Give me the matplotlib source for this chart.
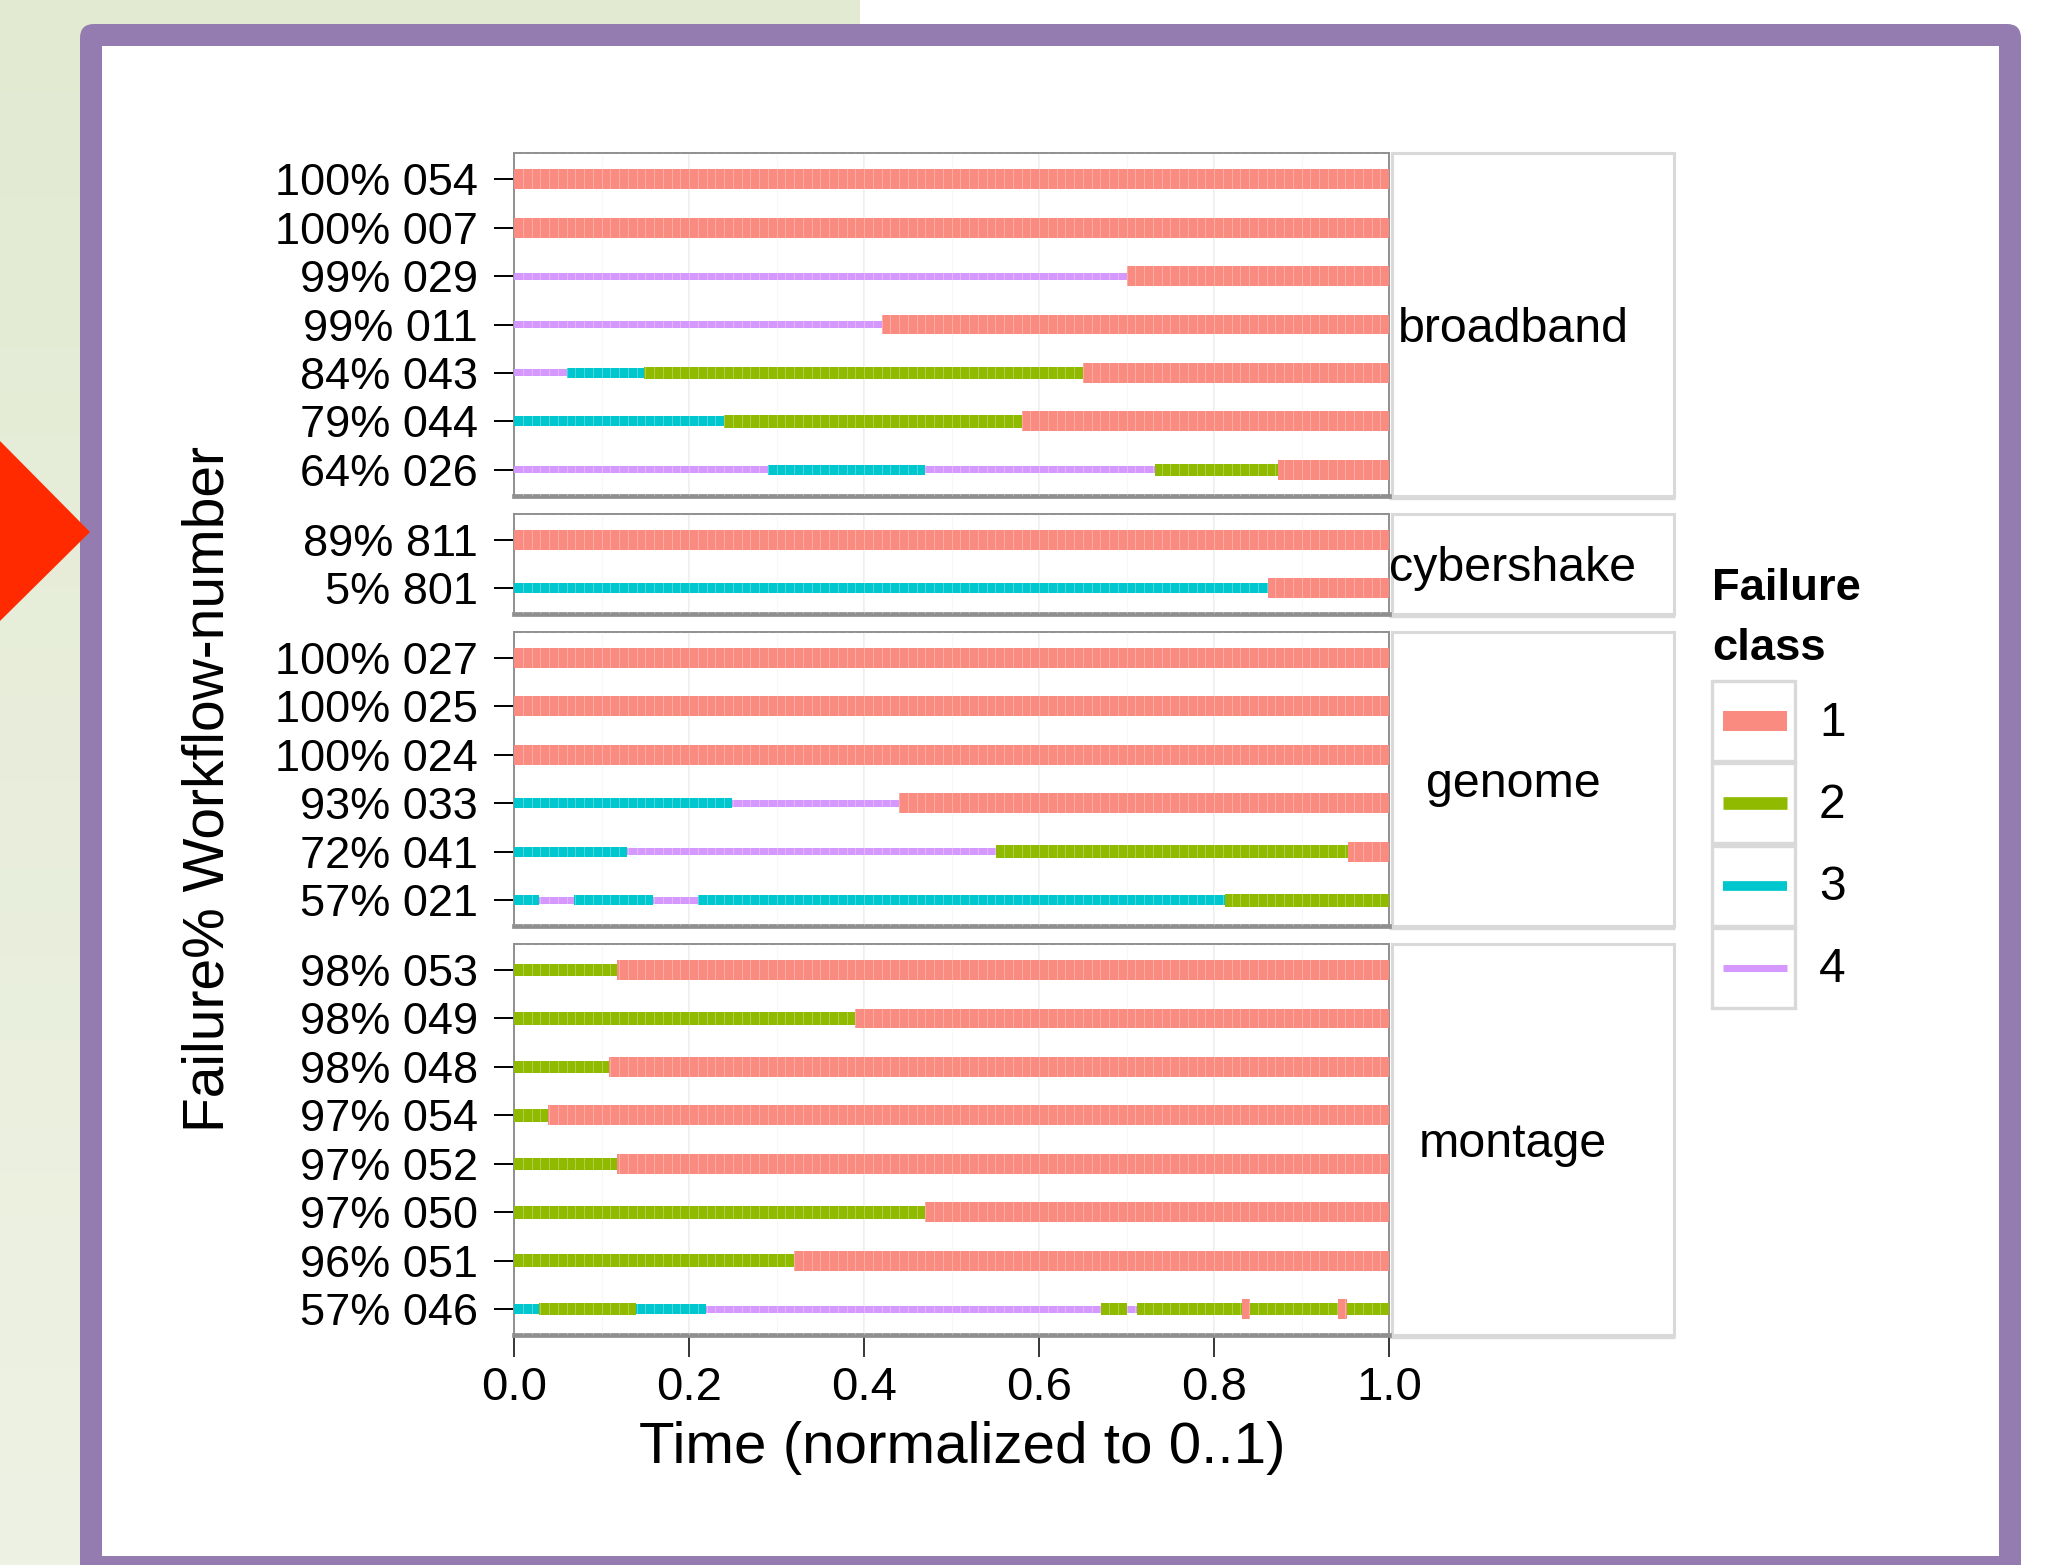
import numpy as np
import matplotlib
matplotlib.use("Agg")
import matplotlib.pyplot as plt
import matplotlib.colors as mcolors
from matplotlib.patches import Rectangle, FancyBboxPatch, Polygon

plt.rcParams['font.family'] = ['Liberation Sans', 'DejaVu Sans']

W, H = 2065, 1565

# ---------------- data ----------------
groups = ["broadband", "cybershake", "genome", "montage"]

broadband_labels = ["100% 054", "100% 007", "99% 029", "99% 011", "84% 043", "79% 044", "64% 026"]
broadband_breaks = [
    [0, 1],
    [0, 1],
    [0, 0.70, 1],
    [0, 0.42, 1],
    [0, 0.06, 0.149, 0.65, 1],
    [0, 0.24, 0.581, 1],
    [0, 0.29, 0.47, 0.732, 0.873, 1],
]
broadband_classes = [[1], [1], [4, 1], [4, 1], [4, 3, 2, 1], [3, 2, 1], [4, 3, 4, 2, 1]]

cybershake_labels = ["89% 811", "5% 801"]
cybershake_breaks = [[0, 1], [0, 0.862, 1]]
cybershake_classes = [[1], [3, 1]]

genome_labels = ["100% 027", "100% 025", "100% 024", "93% 033", "72% 041", "57% 021"]
genome_breaks = [
    [0, 1],
    [0, 1],
    [0, 1],
    [0, 0.249, 0.44, 1],
    [0, 0.129, 0.551, 0.953, 1],
    [0, 0.028, 0.069, 0.159, 0.21, 0.812, 1],
]
genome_classes = [[1], [1], [1], [3, 4, 1], [3, 4, 2, 1], [3, 4, 3, 4, 3, 2]]

montage_labels = ["98% 053", "98% 049", "98% 048", "97% 054", "97% 052", "97% 050", "96% 051", "57% 046"]
montage_breaks = [
    [0, 0.118, 1],
    [0, 0.39, 1],
    [0, 0.108, 1],
    [0, 0.039, 1],
    [0, 0.118, 1],
    [0, 0.47, 1],
    [0, 0.32, 1],
    [0, 0.028, 0.139, 0.219, 0.671, 0.701, 0.7115, 0.832, 0.841, 0.942, 0.952, 1],
]
montage_classes = [[2, 1], [2, 1], [2, 1], [2, 1], [2, 1], [2, 1], [2, 1],
                   [3, 2, 3, 4, 2, 4, 2, 1, 2, 1, 2]]

failure_classes = [1, 2, 3, 4]
x_ticks = [0.0, 0.2, 0.4, 0.6, 0.8, 1.0]
x_minor = [0.1, 0.3, 0.5, 0.7, 0.9]

# ---------------- style ----------------
class_colors = {1: "#FA8B80", 2: "#8FBA00", 3: "#00C6CD", 4: "#D598FF"}
class_height = {1: 0.41, 2: 0.26, 3: 0.205, 4: 0.145}      # in row units
legend_lw = {1: 14.4, 2: 9.1, 3: 7.0, 4: 5.0}              # points

fig = plt.figure(figsize=(W / 100, H / 100), dpi=100)
fig.patch.set_facecolor("white")

# background / slide decoration
bg = fig.add_axes([0, 0, 1, 1], zorder=0)
grad = np.linspace(0, 1, 256)[:, None, None]
c0 = np.array(mcolors.to_rgb("#E2EAD2"))
c1 = np.array(mcolors.to_rgb("#EEF2E4"))
img = c0 + (c1 - c0) * grad
bg.imshow(img, extent=(0, 860, H, 0), aspect='auto', zorder=0)
bg.add_patch(FancyBboxPatch((80, 24), 1941, 1580, boxstyle="round,pad=0,rounding_size=14",
                            fc="#957CB0", ec="none", zorder=1))
bg.add_patch(Rectangle((102, 46), 1999 - 102, 1556 - 46, fc="white", ec="none", zorder=2))
bg.add_patch(Polygon([(0, 441), (90, 532), (0, 621)], closed=True, fc="#FF2A00", ec="none", zorder=3))
bg.set_xlim(0, W)
bg.set_ylim(H, 0)
bg.axis("off")

panels = [
    ("broadband", broadband_labels, broadband_breaks, broadband_classes),
    ("cybershake", cybershake_labels, cybershake_breaks, cybershake_classes),
    ("genome", genome_labels, genome_breaks, genome_classes),
    ("montage", montage_labels, montage_breaks, montage_classes),
]

ROW, PAD, GAP = 48.45, 0.54, 17.5
PX0, PX1 = 514, 1389
SX0, SX1 = 1392, 1674
top = 153.0
for k, (name, labels, breaks, classes) in enumerate(panels):
    n = len(labels)
    h = (n - 1 + 2 * PAD) * ROW
    ax = fig.add_axes([PX0 / W, 1 - (top + h) / H, (PX1 - PX0) / W, h / H], zorder=5)
    ax.set_xlim(0, 1)
    ax.set_ylim(n - 1 + PAD, -PAD)
    for i, (b, c) in enumerate(zip(breaks, classes)):
        for j, cls in enumerate(c):
            hh = class_height[cls]
            ax.broken_barh([(b[j], b[j + 1] - b[j])], (i - hh / 2, hh),
                           facecolors=class_colors[cls], edgecolor="none", zorder=3)
    # faint texture lines
    ax.vlines(np.arange(0.01, 1.0, 0.01), -PAD, n - 1 + PAD, colors="white",
              linewidth=0.7, alpha=0.3, zorder=4)
    ax.set_yticks(range(n))
    ax.set_yticklabels(labels)
    ax.set_xticks(x_ticks)
    ax.set_xticks(x_minor, minor=True)
    ax.set_axisbelow(True)
    ax.grid(True, which='major', axis='x', color='#EBEBEB', linewidth=1.1)
    ax.grid(True, which='minor', axis='x', color='#F5F5F5', linewidth=0.8)
    ax.grid(False, axis='y')
    ax.tick_params(axis='y', length=14.4, width=1.4, color='black', pad=11.5,
                   labelsize=32.5, labelcolor='black')
    ax.tick_params(axis='x', which='minor', length=0)
    if k == len(panels) - 1:
        ax.set_xticklabels([f"{t:.1f}" for t in x_ticks])
        ax.tick_params(axis='x', which='major', length=16, width=1.1, color='black',
                       pad=6, labelsize=34)
    else:
        ax.tick_params(axis='x', which='major', length=0, labelbottom=False)
    for s in ax.spines.values():
        s.set_color('#8F8F8F')
        s.set_linewidth(1.4)
    ax.spines['bottom'].set_linewidth(3.4)

    # strip on the right
    bg.add_patch(Rectangle((SX0, top), SX1 - SX0, h, fc="white", ec="#D9D9D9", lw=2.2, zorder=4))
    bg.plot([PX1, SX1 + 1], [top + h + 1.5, top + h + 1.5], color="#D9D9D9", lw=2.4, zorder=4,
            solid_capstyle='butt')
    bg.text(1513, top + h / 2 + 5, name, ha='center', va='center', fontsize=34.8, zorder=5)
    top += h + GAP

# axis titles
bg.text(962, 1448, "Time (normalized to 0..1)", ha='center', va='center', fontsize=42, zorder=5)
bg.text(209, 789, "Failure% Workflow-number", ha='center', va='center', rotation=90,
        fontsize=41, zorder=5)

# legend
bg.text(1712, 589, "Failure", ha='left', va='center', fontsize=32.7, fontweight='bold', zorder=5)
bg.text(1712, 648, "class", ha='left', va='center', fontsize=32.7, fontweight='bold', zorder=5)
for k, cls in enumerate(failure_classes):
    y0 = 681 + k * 82.3
    bg.add_patch(Rectangle((1712, y0), 83, 80, fc="white", ec="#D9D9D9", lw=2.4, zorder=4))
    bg.plot([1723, 1787], [y0 + 40, y0 + 40], color=class_colors[cls], lw=legend_lw[cls],
            solid_capstyle='butt', zorder=5)
    bg.text(1819, y0 + 42, str(cls), ha='left', va='center', fontsize=34.5, zorder=5)

fig.savefig("out.png", dpi=100)
